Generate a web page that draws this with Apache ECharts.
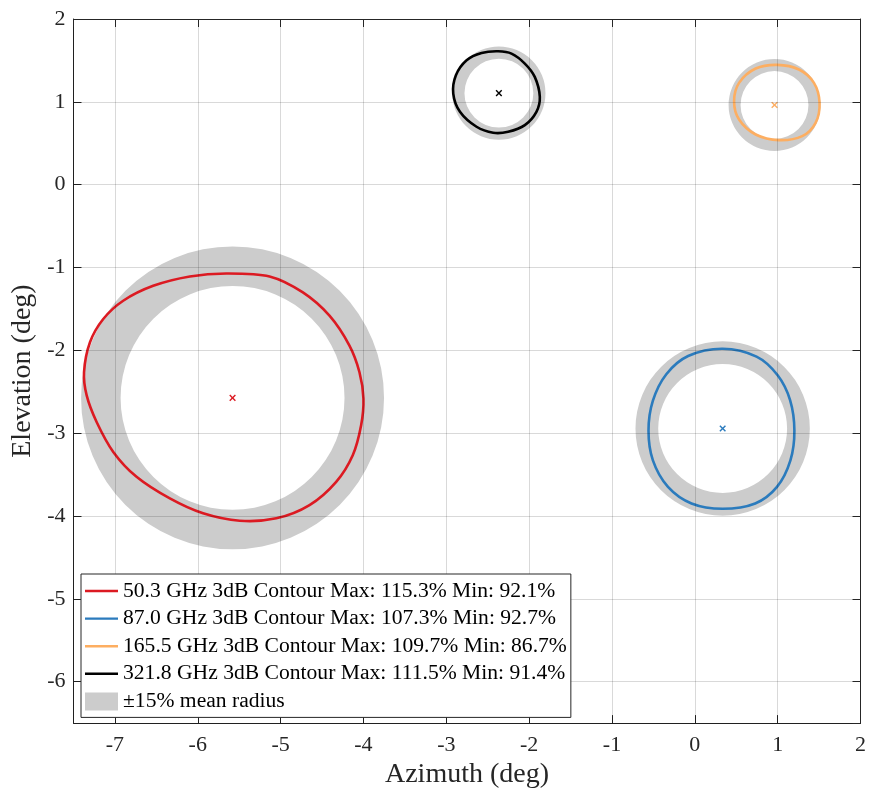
<!DOCTYPE html>
<html>
<head>
<meta charset="utf-8">
<script src="https://cdn.jsdelivr.net/npm/echarts@6/dist/echarts.min.js"></script>
<style>
  html, body { margin: 0; padding: 0; background: #fff; }
  #chart { width: 869px; height: 794px; }
</style>
</head>
<body>
<div id="chart"></div>
<script>
// legend labels
const seriesNames = [
  '50.3 GHz 3dB Contour Max: 115.3% Min: 92.1%',
  '87.0 GHz 3dB Contour Max: 107.3% Min: 92.7%',
  '165.5 GHz 3dB Contour Max: 109.7% Min: 86.7%',
  '321.8 GHz 3dB Contour Max: 111.5% Min: 91.4%'
];
const bandName = '±15% mean radius';
const lineColors = ['#dc1a22', '#2b7bbd', '#fdae61', '#000000'];

// beam centres (deg) and mean radius of each contour
const centreAz = [-5.58, 0.336, 0.962, -2.365];
const centreEl = [-2.574, -2.944, 0.962, 1.105];
const meanRadius = [1.59, 0.915, 0.482, 0.489];

// contour points [az, el]
const contour50 = [
  [-5.655, -1.072], [-5.133, -1.108], [-4.731, -1.301], [-4.410, -1.582],
  [-4.169, -1.943], [-4.048, -2.264], [-4.000, -2.584], [-4.028, -2.905],
  [-4.129, -3.266], [-4.329, -3.587], [-4.651, -3.868], [-5.052, -4.028],
  [-5.494, -4.057], [-5.936, -3.968], [-6.337, -3.788], [-6.739, -3.527],
  [-7.020, -3.226], [-7.221, -2.865], [-7.341, -2.544], [-7.373, -2.264],
  [-7.301, -1.903], [-7.141, -1.622], [-6.900, -1.401], [-6.538, -1.221],
  [-6.096, -1.108]
];
const contour87 = [
  [0.336, -1.980], [0.745, -2.075], [1.000, -2.300], [1.150, -2.600],
  [1.202, -2.968], [1.154, -3.328], [0.992, -3.648], [0.729, -3.848],
  [0.336, -3.912], [-0.040, -3.848], [-0.324, -3.648], [-0.506, -3.328],
  [-0.559, -2.968], [-0.506, -2.608], [-0.344, -2.288], [-0.081, -2.068]
];
const contour165 = [
  [0.996, 1.446], [1.257, 1.390], [1.438, 1.229], [1.506, 0.988],
  [1.458, 0.747], [1.297, 0.586], [1.016, 0.538], [0.735, 0.606],
  [0.534, 0.787], [0.474, 1.008], [0.534, 1.229], [0.735, 1.402]
];
const contour321 = [
  [-2.373, 1.610], [-2.213, 1.582], [-2.052, 1.462], [-1.932, 1.301],
  [-1.871, 1.060], [-1.912, 0.880], [-2.052, 0.719], [-2.253, 0.639],
  [-2.434, 0.627], [-2.635, 0.699], [-2.835, 0.880], [-2.916, 1.100],
  [-2.884, 1.321], [-2.755, 1.502], [-2.574, 1.590]
];
const contours = [contour50, contour87, contour165, contour321];

const FONT = 'Liberation Serif';
const AXIS_COLOR = '#262626';

const chartDom = document.getElementById('chart');
const myChart = echarts.init(chartDom, null, { renderer: 'canvas' });

// legend icon: thin bar inside a 33x18 box
const lineIcon = 'path://M0,0L0.001,0L0,0.001Z M0,7.8H33V10.2H0Z M33,18L32.999,18L33,17.999Z';

// closed catmull-rom curve through the (pixel) points, as svg path data
function closedCurve(px) {
  const n = px.length;
  let d = 'M' + px[0][0] + ',' + px[0][1];
  for (let i = 0; i < n; i++) {
    const p0 = px[(i - 1 + n) % n], p1 = px[i], p2 = px[(i + 1) % n], p3 = px[(i + 2) % n];
    const c1x = p1[0] + (p2[0] - p0[0]) / 6, c1y = p1[1] + (p2[1] - p0[1]) / 6;
    const c2x = p2[0] - (p3[0] - p1[0]) / 6, c2y = p2[1] - (p3[1] - p1[1]) / 6;
    d += 'C' + c1x + ',' + c1y + ' ' + c2x + ',' + c2y + ' ' + p2[0] + ',' + p2[1];
  }
  return d + 'Z';
}

function contourSeries(i) {
  const pts = contours[i];
  return {
    type: 'custom',
    name: seriesNames[i],
    data: pts,
    itemStyle: { color: lineColors[i] },
    z: 3,
    renderItem: (params, api) => {
      if (params.dataIndex !== 0) return null;
      const px = pts.map(p => api.coord(p));
      return {
        type: 'path',
        shape: { pathData: closedCurve(px) },
        style: { fill: 'none', stroke: lineColors[i], lineWidth: 2.6 }
      };
    }
  };
}

const bandData = centreAz.map((az, i) => [az, centreEl[i], meanRadius[i]]);
const markerData = centreAz.map((az, i) => [az, centreEl[i], i]);

const axisCommon = {
  type: 'value',
  minInterval: 1,
  maxInterval: 1,
  axisLine: { show: true, onZero: false, lineStyle: { color: AXIS_COLOR, width: 1 } },
  axisTick: { show: true, inside: true, length: 8, lineStyle: { color: AXIS_COLOR, width: 1 } }
};

const option = {
  animation: false,
  backgroundColor: '#fff',
  grid: { left: 73.5, top: 19, right: 7, bottom: 69, containLabel: false },
  xAxis: [
    Object.assign({}, axisCommon, {
      min: -7.5, max: 2, splitNumber: 10, position: 'bottom',
      axisLabel: { showMinLabel: false, fontFamily: FONT, fontSize: 22, color: AXIS_COLOR, margin: 11 },
      splitLine: { show: false },
      name: 'Azimuth (deg)', nameLocation: 'middle', nameGap: 35,
      nameTextStyle: { fontFamily: FONT, fontSize: 28, color: AXIS_COLOR }
    }),
    Object.assign({}, axisCommon, {
      min: -7.5, max: 2, splitNumber: 10, position: 'top', z: 5,
      axisLabel: { show: false },
      splitLine: { show: true, lineStyle: { color: 'rgba(0,0,0,0.15)', width: 1 } }
    })
  ],
  yAxis: [
    Object.assign({}, axisCommon, {
      min: -6.5, max: 2, splitNumber: 9, position: 'left',
      axisLabel: { showMinLabel: false, fontFamily: FONT, fontSize: 22, color: AXIS_COLOR, margin: 8 },
      splitLine: { show: false },
      name: 'Elevation (deg)', nameLocation: 'middle', nameGap: 34,
      nameTextStyle: { fontFamily: FONT, fontSize: 28, color: AXIS_COLOR }
    }),
    Object.assign({}, axisCommon, {
      min: -6.5, max: 2, splitNumber: 9, position: 'right', z: 5,
      axisLabel: { show: false },
      splitLine: { show: true, lineStyle: { color: 'rgba(0,0,0,0.15)', width: 1 } }
    })
  ],
  legend: {
    orient: 'vertical',
    left: 81,
    top: 574,
    z: 10,
    padding: [6, 4, 5, 4],
    itemGap: 5.6,
    itemWidth: 33,
    itemHeight: 18,
    backgroundColor: '#fff',
    borderColor: AXIS_COLOR,
    borderWidth: 1,
    borderRadius: 0,
    selectedMode: false,
    textStyle: { fontFamily: FONT, fontSize: 21.6, color: '#000' },
    data: seriesNames.map(n => ({ name: n, icon: lineIcon })).concat([{ name: bandName, icon: 'rect' }])
  },
  series: [
    {
      type: 'custom',
      name: bandName,
      data: bandData,
      itemStyle: { color: '#cccccc' },
      z: 1,
      renderItem: (params, api) => {
        const c = api.coord([api.value(0), api.value(1)]);
        const r = api.size([api.value(2), 0])[0];
        return {
          type: 'ring',
          shape: { cx: c[0], cy: c[1], r: r * 1.15, r0: r * 0.85 },
          style: { fill: '#cccccc' }
        };
      }
    },
    contourSeries(0),
    contourSeries(1),
    contourSeries(2),
    contourSeries(3),
    {
      type: 'custom',
      name: 'centres',
      data: markerData,
      z: 4,
      renderItem: (params, api) => {
        const c = api.coord([api.value(0), api.value(1)]);
        const col = lineColors[api.value(2)];
        const h = 2.8;
        return {
          type: 'group',
          children: [
            { type: 'line', shape: { x1: c[0] - h, y1: c[1] - h, x2: c[0] + h, y2: c[1] + h }, style: { stroke: col, lineWidth: 1.4 } },
            { type: 'line', shape: { x1: c[0] - h, y1: c[1] + h, x2: c[0] + h, y2: c[1] - h }, style: { stroke: col, lineWidth: 1.4 } }
          ]
        };
      }
    }
  ]
};

myChart.setOption(option);
</script>
</body>
</html>
